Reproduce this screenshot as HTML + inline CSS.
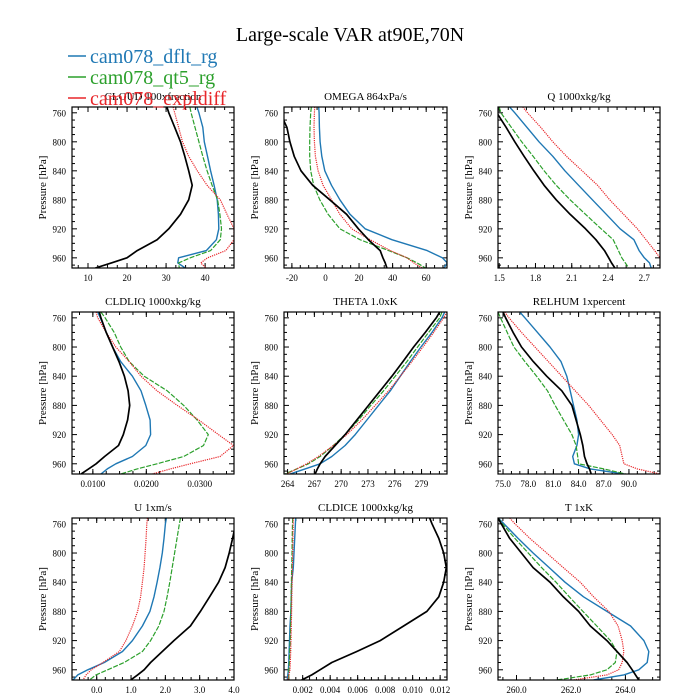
<!DOCTYPE html>
<html><head><meta charset="utf-8"><style>
html,body{margin:0;padding:0;background:#fff;}
svg{display:block;font-family:"Liberation Serif",serif;}
</style></head><body>
<svg id="chart" width="700" height="700" viewBox="0 0 700 700" xmlns="http://www.w3.org/2000/svg">
<rect width="700" height="700" fill="#fff"/>
<text x="350" y="41" text-anchor="middle" font-size="20">Large-scale VAR at90E,70N</text>
<g id="panels"></g>
<g>
<line x1="68" y1="56" x2="86" y2="56" stroke="#1f78b4" stroke-width="1.5"/>
<text x="90" y="63" font-size="20" fill="#1f78b4">cam078_dflt_rg</text>
<line x1="68" y1="77" x2="86" y2="77" stroke="#2ca02c" stroke-width="1.5"/>
<text x="90" y="84" font-size="20" fill="#2ca02c">cam078_qt5_rg</text>
<line x1="68" y1="98" x2="86" y2="98" stroke="#e8262a" stroke-width="1.5"/>
<text x="90" y="105" font-size="20" fill="#e8262a">cam078_expldiff</text>
</g>
</svg>
<script>
const levels=[752,760,780,800,820,840,860,880,900,920,935,950,960,967,974];
const yTicks=[760,800,840,880,920,960];
const panelTitles=["CLOUD  100xfraction","OMEGA  864xPa/s","Q  1000xkg/kg","CLDLIQ  1000xkg/kg","THETA  1.0xK","RELHUM  1xpercent","U  1xm/s","CLDICE  1000xkg/kg","T  1xK"];
const xRanges=[[5.9,47.4],[-24.7,72.4],[1.49,2.83],[0.0061,0.0364],[263.6,281.85],[74.4,93.7],[-0.72,4.0],[0.00064,0.0125],[259.32,265.27]];
const xTickVals=[[10,20,30,40],[-20,0,20,40,60],[1.5,1.8,2.1,2.4,2.7],[0.01,0.02,0.03],[264,267,270,273,276,279],[75,78,81,84,87,90],[0,1,2,3,4],[0.002,0.004,0.006,0.008,0.010,0.012],[260,262,264]];
const xTickLabels=[["10","20","30","40"],["-20","0","20","40","60"],["1.5","1.8","2.1","2.4","2.7"],["0.0100","0.0200","0.0300"],["264","267","270","273","276","279"],["75.0","78.0","81.0","84.0","87.0","90.0"],["0.0","1.0","2.0","3.0","4.0"],["0.002","0.004","0.006","0.008","0.010","0.012"],["260.0","262.0","264.0"]];
const xMinorStep=[2.5,5,0.075,0.0025,1,1,0.25,0.0005,0.5];
const blackVals=[
[30.2,30.7,32.2,33.7,34.8,35.8,36.7,35.8,33.7,30.7,27.7,22.6,20,16,11.9],
[-30,-27,-23,-21.2,-18.6,-14.6,-7.6,2.6,12.6,19.6,25.6,32.6,34.2,35.6,36.6],
[1.47,1.48,1.557,1.629,1.706,1.786,1.871,1.971,2.086,2.214,2.3,2.371,2.406,2.429,2.457],
[0.0112,0.0115,0.0125,0.0137,0.0149,0.0159,0.0166,0.0169,0.0165,0.0157,0.0148,0.0122,0.0106,0.0092,0.0078],
[281.03,280.65,279.42,278.11,276.91,275.68,274.37,273.06,271.75,270.44,269.32,268.2,267.64,267.34,267.08],
[75.0,75.3,76.2,77.2,78.6,80.2,82.0,83.2,83.7,84.2,84.5,84.7,85.0,85.3,85.5],
[4.1,4.05,3.96,3.86,3.74,3.55,3.29,3.02,2.73,2.25,1.91,1.57,1.38,1.19,0.99],
[0.01124,0.01141,0.0119,0.01226,0.01245,0.01226,0.0119,0.01104,0.00934,0.00764,0.00594,0.00412,0.00326,0.00266,0.00193],
[259.32,259.44,259.75,260.18,260.61,261.23,261.72,262.28,262.71,263.32,263.69,264.06,264.25,264.37,264.49]];
const dfltVals=[
[37.9,38.4,39.4,39.8,40.6,41.4,42.3,43.1,43.4,43.5,42.9,40.3,33.2,33.0,34.9],
[-4,-3.8,-3.6,-3.2,-2.2,-0.4,3.6,8.6,14.6,23.6,39.6,60.6,69.6,72.6,70.6],
[1.586,1.629,1.729,1.829,1.943,2.043,2.157,2.271,2.386,2.5,2.614,2.657,2.7,2.743,2.757],
[0.0109,0.0114,0.0125,0.0137,0.0152,0.0174,0.0190,0.0199,0.0207,0.0208,0.0199,0.0174,0.0143,0.0127,0.0115],
[281.59,281.29,280.17,278.93,277.74,276.62,275.5,274.18,272.88,271.57,270.44,268.95,267.64,265.96,264.27],
[77.0,77.6,79.1,80.6,81.9,82.6,83.0,83.4,83.8,84.0,83.8,83.3,83.5,85.4,89.4],
[2.03,2.0,1.96,1.91,1.84,1.76,1.67,1.55,1.33,1.04,0.75,0.22,-0.26,-0.55,-0.69],
[0.00149,0.00147,0.00142,0.00137,0.00132,0.0012,0.00117,0.00114,0.00108,0.00104,0.00101,0.00099,0.00096,0.00092,0.00088],
[259.32,259.54,260.06,260.61,261.2,261.78,262.46,263.32,264.19,264.68,264.86,264.8,264.49,263.94,262.83]];
const qt5Vals=[
[36.1,36.4,37.4,38.4,39.4,40.5,41.8,43.2,43.8,44.2,43.9,41.4,36.2,33.2,33.4],
[-8.4,-8.8,-9.2,-9.4,-9.4,-8.8,-7,-3.4,1.6,8.6,20.6,37.6,48.6,54.6,59.6],
[1.5,1.514,1.6,1.686,1.78,1.871,1.971,2.086,2.214,2.343,2.443,2.486,2.514,2.543,2.571],
[0.0115,0.0123,0.0140,0.0152,0.0168,0.0196,0.0239,0.0270,0.0295,0.0316,0.0307,0.0270,0.0220,0.0183,0.0152],
[281.29,281.03,279.79,278.56,277.36,276.05,274.75,273.32,271.94,270.44,269.13,267.64,266.33,265.02,263.71],
[74.4,74.7,75.5,76.3,77.6,79.0,80.3,81.2,82.2,83.2,83.7,83.9,84.0,87.0,89.6],
[2.44,2.41,2.34,2.27,2.2,2.13,2.05,1.96,1.81,1.57,1.33,0.8,0.32,-0.02,-0.21],
[0.00127,0.00126,0.00124,0.00122,0.0012,0.00118,0.00116,0.00114,0.00112,0.0011,0.00106,0.00103,0.001,0.00099,0.00098],
[259.32,259.48,259.94,260.43,260.92,261.45,261.94,262.44,262.95,263.45,263.69,263.63,263.32,262.71,261.48]];
const explVals=[
[31.8,32.2,33.2,34.2,35.8,38.0,40.5,43.9,45.6,47.4,47.4,45.3,40.6,38.9,40.2],
[-6.4,-6.6,-6.8,-6.6,-6,-4.4,-1.4,3.6,8.6,15.6,26.6,38.6,48.6,52.6,57.6],
[1.694,1.734,1.843,1.943,2.057,2.186,2.314,2.414,2.529,2.643,2.714,2.786,2.829,2.857,2.877],
[0.0106,0.0109,0.0125,0.0143,0.0168,0.0190,0.0220,0.0258,0.0298,0.0335,0.0363,0.0338,0.0282,0.0245,0.0211],
[281.85,281.48,280.36,279.16,277.92,276.62,275.31,273.81,272.31,270.63,269.13,267.45,266.14,265.02,263.9],
[75.2,75.7,77.2,78.8,80.4,82.0,83.6,85.2,86.6,88.0,88.9,89.2,89.4,91.0,93.7],
[1.48,1.46,1.44,1.41,1.38,1.33,1.28,1.19,1.04,0.85,0.66,0.18,-0.16,-0.31,-0.4],
[0.00132,0.00131,0.00129,0.00127,0.00125,0.00123,0.00121,0.00119,0.00117,0.00115,0.00113,0.0011,0.00108,0.001,0.00093],
[259.75,259.94,260.49,261.11,261.72,262.34,262.83,263.39,263.73,263.88,263.94,263.88,263.75,263.32,262.09]];

const NS="http://www.w3.org/2000/svg";
const cols=[[72,234],[284,447],[498,660]];
const rows=[[107,268],[312,474],[518,680]];
const pTop=752,pBot=974;
const g=document.getElementById('panels');
function mk(tag,attrs,parent){const e=document.createElementNS(NS,tag);for(const k in attrs)e.setAttribute(k,attrs[k]);parent.appendChild(e);return e;}
const styles=[
 {vals:dfltVals,color:"#1f78b4",w:1.4,dash:null,name:"dflt"},
 {vals:qt5Vals,color:"#2ca02c",w:1.2,dash:"5,1.5",name:"qt5"},
 {vals:explVals,color:"#e8262a",w:1.2,dash:"1.2,1",name:"expldiff"},
 {vals:blackVals,color:"#000",w:1.7,dash:null,name:"obs"}];
for(let i=0;i<9;i++){
 const [x0,x1]=cols[i%3],[y0,y1]=rows[Math.floor(i/3)];
 const [xa,xb]=xRanges[i];
 const sx=v=>x0+(v-xa)/(xb-xa)*(x1-x0);
 const sy=p=>y0+(p-pTop)/(pBot-pTop)*(y1-y0);
 const pg=mk('g',{},g);
 
 
 const cp=mk('clipPath',{id:'clip'+i},pg);
 mk('rect',{x:x0,y:y0,width:x1-x0,height:y1-y0},cp);
 const t=mk('text',{x:(x0+x1)/2,y:y0-7,'text-anchor':'middle','font-size':11},pg);
 t.textContent=panelTitles[i];
 
 
 const yl=mk('text',{x:x0-26,y:(y0+y1)/2,'text-anchor':'middle','font-size':11,transform:`rotate(-90 ${x0-26} ${(y0+y1)/2})`},pg);
 yl.textContent="Pressure [hPa]";
 
 
 for(let p=760;p<=970;p+=10){
  const y=sy(p),major=yTicks.includes(p),L=major?5:3;
  mk('line',{x1:x0,x2:x0+L,y1:y,y2:y,stroke:'#000','stroke-width':1},pg);
  mk('line',{x1:x1,x2:x1-L,y1:y,y2:y,stroke:'#000','stroke-width':1},pg);
  if(major){const tl=mk('text',{x:x0-6,y:y+3.5,'text-anchor':'end','font-size':9},pg);tl.textContent=p;
   
   }
 }
 const ms=xMinorStep[i];
 for(let v=Math.ceil(xa/ms)*ms;v<=xb;v+=ms){const x=sx(v);
  mk('line',{x1:x,x2:x,y1:y1,y2:y1-3,stroke:'#000','stroke-width':1},pg);
  mk('line',{x1:x,x2:x,y1:y0,y2:y0+3,stroke:'#000','stroke-width':1},pg);}
 xTickVals[i].forEach((v,k)=>{const x=sx(v);
  mk('line',{x1:x,x2:x,y1:y1,y2:y1-5,stroke:'#000','stroke-width':1},pg);
  mk('line',{x1:x,x2:x,y1:y0,y2:y0+5,stroke:'#000','stroke-width':1},pg);
  const tl=mk('text',{x:x,y:y1+13,'text-anchor':'middle','font-size':9},pg);tl.textContent=xTickLabels[i][k];
  
  });
 const cg=mk('g',{'clip-path':`url(#clip${i})`},pg);
 styles.forEach(s=>{
  const d=levels.map((p,k)=>(k?'L':'M')+sx(s.vals[i][k]).toFixed(1)+','+sy(p).toFixed(1)).join(' ');
  const a={d:d,fill:'none',stroke:s.color,'stroke-width':s.w,'stroke-linejoin':'round'};
  if(s.dash)a['stroke-dasharray']=s.dash;
  const path=mk('path',a,cg);
  
  
 });
 mk('rect',{x:x0,y:y0,width:x1-x0,height:y1-y0,fill:'none',stroke:'#000','stroke-width':1.2},pg);
}
</script>
</body></html>
